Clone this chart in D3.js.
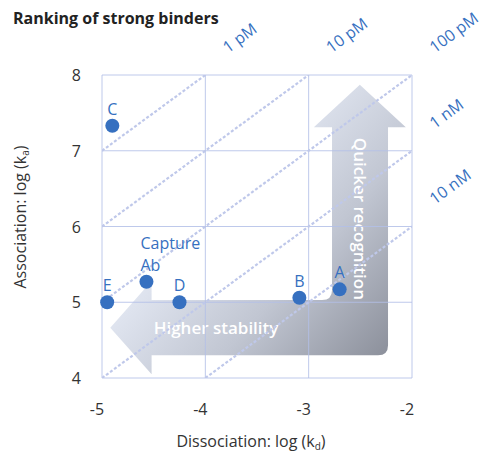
<!DOCTYPE html>
<html>
<head>
    <title>Ranking of strong binders</title>
</head>
<meta charset="utf-8">
<style type="text/css">
    html, body {
        margin: 0;
        background: #fff;
        font-family: "Open Sans", Lato, sans-serif;
    }
</style>
<body>
<svg id="chart" width="490" height="454"></svg>

<script src="https://cdn.jsdelivr.net/npm/d3@7"></script>
<script>
    "use strict";

    // data
    const names = ["A", "B", "C", "D", "E", "Capture\nAb"];
    const logKd = [-2.70, -3.09, -4.90, -4.25, -4.95, -4.57];
    const logKa = [5.17, 5.06, 7.33, 5.00, 5.00, 5.27];

    const xTicks = [-5, -4, -3, -2];
    const yTicks = [4, 5, 6, 7, 8];

    // affinity lines, KD = kd / ka
    const kdLabels = ["1 pM", "10 pM", "100 pM", "1 nM", "10 nM"];
    const logKD = [-12, -11, -10, -9, -8];

    const blue = "#3670c0",
        grid = "#b3bfe8",
        dash = "#bfc8ea";

    const svg = d3.select("#chart");

    const x = d3.scaleLinear().domain([-5, -2]).range([102, 412]),
        y = d3.scaleLinear().domain([4, 8]).range([378, 75]);

    const [x0, x1] = x.domain(), [y0, y1] = y.domain();

    // gradient for the big L arrow
    const defs = svg.append("defs");
    const grad = defs.append("linearGradient")
        .attr("id", "arrowGrad")
        .attr("gradientUnits", "userSpaceOnUse")
        .attr("x1", 205).attr("y1", 210)
        .attr("x2", 388).attr("y2", 372);
    grad.append("stop").attr("offset", 0).attr("stop-color", "#e1e6f1");
    grad.append("stop").attr("offset", 0.45).attr("stop-color", "#c1c6d2");
    grad.append("stop").attr("offset", 1).attr("stop-color", "#878b96");

    defs.append("clipPath").attr("id", "plotClip")
        .append("rect")
        .attr("x", x(x0)).attr("y", y(y1))
        .attr("width", x(x1) - x(x0)).attr("height", y(y0) - y(y1));

    // arrow outline in data units
    const arr = {
        leftTip: -4.92, headX: -4.52, midKa: 4.665, headTop: 5.28, headBot: 4.05,
        shaftTop: 5.03, shaftBot: 4.30,
        upTip: 7.87, headY: 7.31, headL: -2.95, headR: -2.06,
        shaftL: -2.774, shaftR: -2.232
    };
    const r = 10;
    const p = d3.path();
    p.moveTo(x(arr.leftTip), y(arr.midKa));
    p.lineTo(x(arr.headX), y(arr.headTop));
    p.lineTo(x(arr.headX), y(arr.shaftTop));
    p.lineTo(x(arr.shaftL) - r, y(arr.shaftTop));
    p.quadraticCurveTo(x(arr.shaftL), y(arr.shaftTop), x(arr.shaftL), y(arr.shaftTop) - r);
    p.lineTo(x(arr.shaftL), y(arr.headY));
    p.lineTo(x(arr.headL), y(arr.headY));
    p.lineTo(x((arr.headL + arr.headR) / 2), y(arr.upTip));
    p.lineTo(x(arr.headR), y(arr.headY));
    p.lineTo(x(arr.shaftR), y(arr.headY));
    p.lineTo(x(arr.shaftR), y(arr.shaftBot) - r);
    p.quadraticCurveTo(x(arr.shaftR), y(arr.shaftBot), x(arr.shaftR) - r, y(arr.shaftBot));
    p.lineTo(x(arr.headX), y(arr.shaftBot));
    p.lineTo(x(arr.headX), y(arr.headBot));
    p.closePath();

    svg.append("path")
        .attr("d", p.toString())
        .attr("fill", "url(#arrowGrad)");

    svg.append("text")
        .attr("x", x(-4.5)).attr("y", y(arr.midKa) + 6)
        .attr("fill", "#fff")
        .attr("font-weight", 600)
        .attr("font-size", 17)
        .text("Higher stability");

    const vx = x((arr.shaftL + arr.shaftR) / 2);
    svg.append("text")
        .attr("transform", `translate(${vx - 6},${y(6.1)}) rotate(90)`)
        .attr("text-anchor", "middle")
        .attr("fill", "#fff")
        .attr("font-weight", 600)
        .attr("font-size", 17)
        .text("Quicker recognition");

    // grid
    const g = svg.append("g").attr("stroke", grid).attr("stroke-opacity", 0.85);
    g.selectAll(".vx").data(xTicks).join("line")
        .attr("x1", d => x(d)).attr("x2", d => x(d))
        .attr("y1", y(y0)).attr("y2", y(y1));
    g.selectAll(".hy").data(yTicks).join("line")
        .attr("x1", x(x0)).attr("x2", x(x1))
        .attr("y1", d => y(d)).attr("y2", d => y(d));

    // affinity lines: log ka = log kd - log KD
    const lines = logKD.map((k, i) => {
        const a = Math.max(x0, y0 + k), b = Math.min(x1, y1 + k);
        return {label: kdLabels[i], xs: a, ys: a - k, xe: b, ye: b - k};
    });

    svg.append("g")
        .attr("clip-path", "url(#plotClip)")
        .selectAll("line").data(lines).join("line")
        .attr("x1", d => x(d.xs)).attr("y1", d => y(d.ys))
        .attr("x2", d => x(d.xe)).attr("y2", d => y(d.ye))
        .attr("stroke", dash)
        .attr("stroke-width", 2.2)
        .attr("stroke-dasharray", "3,2");

    const ang = Math.atan2(y(y0) - y(y0 + 1), x(x0 + 1) - x(x0)) * 180 / Math.PI;
    svg.append("g")
        .selectAll("text").data(lines).join("text")
        .attr("transform", d => `translate(${x(d.xe)},${y(d.ye)}) rotate(${-ang})`)
        .attr("x", 31).attr("y", -4)
        .attr("fill", blue)
        .attr("font-size", 16)
        .text(d => d.label);

    // points
    const pts = names.map((n, i) => ({name: n, kd: logKd[i], ka: logKa[i]}));
    svg.append("g")
        .selectAll("circle").data(pts).join("circle")
        .attr("cx", d => x(d.kd)).attr("cy", d => y(d.ka))
        .attr("r", 7)
        .attr("fill", blue);

    const lab = svg.append("g")
        .attr("fill", blue)
        .attr("font-size", 16)
        .selectAll("text").data(pts).join("text")
        .attr("text-anchor", d => d.name.includes("\n") ? "start" : "middle")
        .attr("x", d => x(d.kd) - (d.name.includes("\n") ? 6 : 0))
        .attr("y", d => y(d.ka) - 11);
    lab.each(function (d) {
        const parts = d.name.split("\n");
        const t = d3.select(this);
        parts.forEach((s, i) => {
            t.append("tspan")
                .attr("x", x(d.kd) - (parts.length > 1 ? 6 : 0))
                .attr("dy", i === 0 ? -(parts.length - 1) * 22 : 22)
                .text(s);
        });
    });

    // tick labels
    svg.append("g")
        .attr("fill", "#333").attr("font-size", 16)
        .attr("text-anchor", "middle")
        .selectAll("text").data(xTicks).join("text")
        .attr("x", d => x(d) - 5).attr("y", y(y0) + 37)
        .text(d => d);

    svg.append("g")
        .attr("fill", "#333").attr("font-size", 16)
        .attr("text-anchor", "end")
        .selectAll("text").data(yTicks).join("text")
        .attr("x", x(x0) - 21).attr("y", d => y(d) + 6)
        .text(d => d);

    // axis titles
    const xt = svg.append("text")
        .attr("x", 251).attr("y", 447)
        .attr("text-anchor", "middle")
        .attr("fill", "#333").attr("font-size", 16);
    xt.append("tspan").text("Dissociation: log (k");
    xt.append("tspan").attr("font-size", 10).attr("dy", 3).text("d");
    xt.append("tspan").attr("dy", -3).text(")");

    const yt = svg.append("text")
        .attr("transform", "translate(26,217) rotate(-90)")
        .attr("text-anchor", "middle")
        .attr("fill", "#333").attr("font-size", 16);
    yt.append("tspan").text("Association: log (k");
    yt.append("tspan").attr("font-size", 10).attr("dy", 3).text("a");
    yt.append("tspan").attr("dy", -3).text(")");

    svg.append("text")
        .attr("x", 13).attr("y", 24)
        .attr("fill", "#222")
        .attr("font-weight", "bold")
        .attr("font-size", 16)
        .text("Ranking of strong binders");
</script>
</body>
</html>
